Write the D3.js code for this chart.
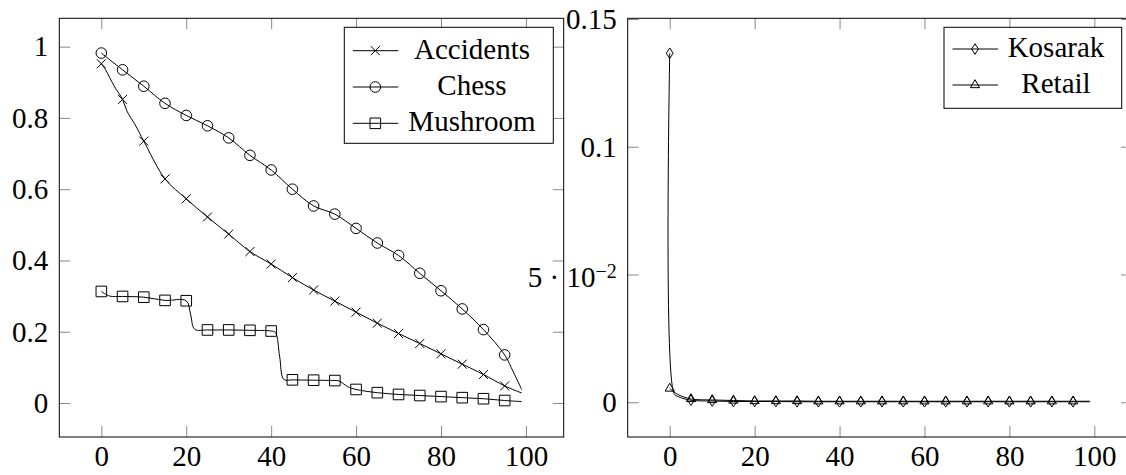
<!DOCTYPE html>
<html>
<head>
<meta charset="utf-8">
<script src="https://cdn.jsdelivr.net/npm/d3@7"></script>
<style>
  body { margin: 0; background: #fff; }
  svg text { font-size: 29px; fill: #000; }
</style>
</head>
<body>
<svg id="chart" width="1126" height="475"></svg>
<script>
// left panel
const accidentsX = [0, 1, 3, 5, 6, 8, 10, 15, 20, 25, 30, 35, 40, 45, 50, 55, 60, 65, 70, 75, 80, 85, 90, 95, 99];
const accidentsY = [0.952, 0.935, 0.89, 0.852, 0.82, 0.78, 0.735, 0.629, 0.573, 0.522, 0.474, 0.425, 0.39, 0.352, 0.317, 0.286, 0.255, 0.224, 0.195, 0.167, 0.138, 0.109, 0.08, 0.048, 0.028];

const chessX = [0, 5, 10, 15, 20, 25, 30, 35, 40, 45, 50, 55, 60, 65, 70, 75, 80, 85, 90, 95, 97, 99];
const chessY = [0.982, 0.935, 0.889, 0.841, 0.807, 0.778, 0.744, 0.695, 0.654, 0.6, 0.553, 0.53, 0.49, 0.449, 0.414, 0.364, 0.315, 0.264, 0.206, 0.135, 0.088, 0.038];

const mushroomX = [0, 2, 5, 10, 15, 20, 21, 22, 25, 30, 35, 40, 41, 42, 43, 45, 50, 55, 56, 58, 60, 65, 70, 75, 80, 85, 90, 95, 99];
const mushroomY = [0.313, 0.3, 0.299, 0.297, 0.288, 0.287, 0.25, 0.207, 0.205, 0.205, 0.204, 0.202, 0.198, 0.13, 0.066, 0.065, 0.064, 0.063, 0.062, 0.046, 0.038, 0.029, 0.024, 0.021, 0.018, 0.015, 0.012, 0.007, 0.004];

// right panel
const kosarakX = [0, 1, 2, 5, 10, 15, 20, 25, 30, 35, 40, 45, 50, 55, 60, 65, 70, 75, 80, 85, 90, 95, 99];
const kosarakY = [0.1366, 0.0035, 0.0022, 0.0008, 0.0005, 0.0003, 0.0003, 0.0003, 0.0002, 0.0002, 0.0002, 0.0002, 0.0002, 0.0002, 0.0002, 0.0002, 0.0002, 0.0002, 0.0002, 0.0002, 0.0002, 0.0002, 0.0002];

const retailX = [0, 2, 5, 10, 15, 20, 25, 30, 35, 40, 45, 50, 55, 60, 65, 70, 75, 80, 85, 90, 95, 99];
const retailY = [0.0054, 0.003, 0.0013, 0.0009, 0.0007, 0.0005, 0.0005, 0.0005, 0.0004, 0.0004, 0.0004, 0.0004, 0.0004, 0.0004, 0.0004, 0.0004, 0.0004, 0.0004, 0.0004, 0.0004, 0.0004, 0.0004];

const xTicks = [0, 20, 40, 60, 80, 100];
const leftYTicks = [0, 0.2, 0.4, 0.6, 0.8, 1];
const leftYLabels = ["0", "0.2", "0.4", "0.6", "0.8", "1"];
const rightYTicks = [0, 0.05, 0.1, 0.15];
const rightYLabels = ["0", "5 · 10|−2", "0.1", "0.15"];

const FONT = "'Liberation Serif', 'DejaVu Serif', 'Times New Roman', serif";

const svg = d3.select("#chart").attr("font-family", FONT);

const marks = {
  cross: "M-4.5,-4.5L4.5,4.5M-4.5,4.5L4.5,-4.5",
  circle: d3.symbol().type(d3.symbolCircle).size(Math.PI * 5.3 * 5.3)(),
  square: "M-5.3,-5.3H5.3V5.3H-5.3Z",
  diamond: "M0,-5.3L3.4,0L0,5.3L-3.4,0Z",
  triangle: "M0,-5.3L4.6,2.65L-4.6,2.65Z",
};

function zip(xs, ys) {
  return xs.map((x, i) => ({ x: x, y: ys[i] }));
}

function panel(cfg) {
  const x = d3.scaleLinear().domain([-9.9, 108.9]).range([cfg.left, cfg.right]);
  const y = d3.scaleLinear().domain(cfg.yDomain).range([437, 18.3]);
  const g = svg.append("g");

  const tickStyle = sel => {
    sel.attr("font-family", FONT).attr("font-size", 29);
    sel.select(".domain").remove();
    sel.selectAll(".tick line").attr("stroke", "#8a8a8a").attr("stroke-width", 1);
  };

  g.append("g")
    .attr("transform", "translate(0,437)")
    .call(d3.axisBottom(x).tickValues(xTicks).tickSizeInner(-11).tickSizeOuter(0).tickPadding(8))
    .call(tickStyle);

  g.append("g")
    .attr("transform", "translate(0,18.3)")
    .call(d3.axisTop(x).tickValues(xTicks).tickSizeInner(-11).tickSizeOuter(0).tickFormat(""))
    .call(tickStyle);

  g.append("g")
    .attr("transform", `translate(${cfg.left},0)`)
    .call(d3.axisLeft(y).tickValues(cfg.yTicks).tickSizeInner(-11).tickSizeOuter(0).tickPadding(11)
      .tickFormat((d, i) => cfg.yLabels[i]))
    .call(tickStyle)
    .selectAll("text")
    .each(function (d) {
      const t = d3.select(this);
      const parts = t.text().split("|");
      if (parts.length > 1) {
        t.text("").attr("dy", "0.42em");
        t.append("tspan").text(parts[0]);
        t.append("tspan").text(parts[1]).attr("font-size", 20).attr("dy", -9.5);
      }
    });

  g.append("g")
    .attr("transform", `translate(${x.range()[1]},0)`)
    .call(d3.axisRight(y).tickValues(cfg.yTicks).tickSizeInner(-11).tickSizeOuter(0).tickFormat(""))
    .call(tickStyle);

  g.append("rect")
    .attr("x", cfg.left).attr("y", 18.3)
    .attr("width", cfg.right - cfg.left).attr("height", 437 - 18.3)
    .attr("fill", "none").attr("stroke", "#000").attr("stroke-width", 1);

  const line = d3.line()
    .x(d => x(d.x))
    .y(d => y(d.y))
    .curve(d3.curveCatmullRom.alpha(0.5));

  cfg.series.forEach(s => {
    const pts = zip(s.xs, s.ys);
    g.append("path")
      .datum(pts)
      .attr("d", line)
      .attr("fill", "none")
      .attr("stroke", "#000")
      .attr("stroke-width", 1);

    g.selectAll(null)
      .data(pts.filter(d => d.x % 5 === 0))
      .enter()
      .append("path")
      .attr("d", marks[s.mark])
      .attr("transform", d => `translate(${x(d.x)},${y(d.y)})`)
      .attr("fill", "none")
      .attr("stroke", "#000")
      .attr("stroke-width", 1);
  });

  // legend
  const lg = g.append("g");
  lg.append("rect")
    .attr("x", cfg.legend.x0).attr("y", 27.3)
    .attr("width", cfg.legend.x1 - cfg.legend.x0)
    .attr("height", cfg.legend.h)
    .attr("fill", "#fff").attr("stroke", "#000").attr("stroke-width", 1);

  cfg.series.forEach((s, i) => {
    const cy = cfg.legend.row0 + i * cfg.legend.step;
    lg.append("line")
      .attr("x1", cfg.legend.x0 + 8.5).attr("x2", cfg.legend.x0 + 54)
      .attr("y1", cy).attr("y2", cy)
      .attr("stroke", "#000").attr("stroke-width", 1);
    lg.append("path")
      .attr("d", marks[s.mark])
      .attr("transform", `translate(${cfg.legend.x0 + 31},${cy})`)
      .attr("fill", "none").attr("stroke", "#000").attr("stroke-width", 1);
    lg.append("text")
      .attr("x", cfg.legend.textX)
      .attr("y", cy + 7.8)
      .attr("text-anchor", "middle")
      .text(s.name);
  });
}

panel({
  left: 59.3,
  right: 563.7,
  yDomain: [-0.0954, 1.0796],
  yTicks: leftYTicks,
  yLabels: leftYLabels,
  series: [
    { name: "Accidents", xs: accidentsX, ys: accidentsY, mark: "cross" },
    { name: "Chess", xs: chessX, ys: chessY, mark: "circle" },
    { name: "Mushroom", xs: mushroomX, ys: mushroomY, mark: "square" },
  ],
  legend: { x0: 344.3, x1: 553.3, h: 116, row0: 50.7, step: 36.3, textX: 472 },
});

panel({
  left: 627.7,
  right: 1132.1,
  yDomain: [-0.01359, 0.15027],
  yTicks: rightYTicks,
  yLabels: rightYLabels,
  series: [
    { name: "Kosarak", xs: kosarakX, ys: kosarakY, mark: "diamond" },
    { name: "Retail", xs: retailX, ys: retailY, mark: "triangle" },
  ],
  legend: { x0: 944, x1: 1121.7, h: 81, row0: 49, step: 36, textX: 1056 },
});
</script>
</body>
</html>
